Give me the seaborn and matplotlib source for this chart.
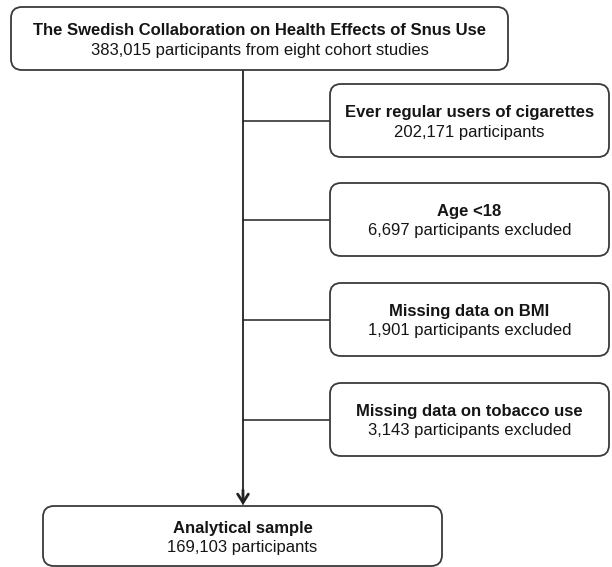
import matplotlib
matplotlib.use("Agg")
import matplotlib.pyplot as plt
from matplotlib.patches import FancyBboxPatch
import seaborn as sns

# flowchart content
TITLES = ["The Swedish Collaboration on Health Effects of Snus Use",
          "Ever regular users of cigarettes",
          "Age <18",
          "Missing data on BMI",
          "Missing data on tobacco use",
          "Analytical sample"]
COUNTS = [383015, 202171, 6697, 1901, 3143, 169103]
NOTES = ["participants from eight cohort studies",
         "participants",
         "participants excluded",
         "participants excluded",
         "participants excluded",
         "participants"]

sns.set_theme(style="white")
plt.rcParams["font.family"] = ["Liberation Sans", "DejaVu Sans"]

EDGE = "#3a3a3a"
LINE = "#222222"
TXT = "#151515"

fig = plt.figure(figsize=(6.12, 5.67), dpi=100)
ax = fig.add_axes([0, 0, 1, 1])
ax.set_xlim(0, 612)
ax.set_ylim(567, 0)
ax.axis("off")


def box(x0, y0, x1, y1, title, count, note):
    p = FancyBboxPatch((x0, y0), x1 - x0, y1 - y0,
                       boxstyle="round,pad=0,rounding_size=11",
                       fc="white", ec=EDGE, lw=1.3, zorder=2)
    ax.add_patch(p)
    cx = (x0 + x1) / 2
    cy = (y0 + y1) / 2
    ax.text(cx, cy - 3.5, title, ha="center", va="baseline",
            fontsize=12, fontweight="bold", color=TXT, zorder=3)
    ax.text(cx, cy + 16, f"{count:,} {note}", ha="center", va="baseline",
            fontsize=12, color=TXT, zorder=3)


spine_x = 243

# top box
box(11, 7, 508, 70, TITLES[0], COUNTS[0], NOTES[0])

# side boxes
side_tops = [84, 183, 283, 383]
for i, top in enumerate(side_tops):
    box(330, top, 609, top + 73, TITLES[i + 1], COUNTS[i + 1], NOTES[i + 1])
    mid = top + 36.5
    ax.plot([spine_x, 330], [mid, mid], color=LINE, lw=1.1, zorder=1)

# main spine, then a heavier chevron head at the bottom
ax.plot([spine_x, spine_x], [70, 504], color=LINE, lw=1.3, zorder=1)
ax.annotate("", xy=(spine_x, 505), xytext=(spine_x, 490),
            arrowprops=dict(arrowstyle="->,head_length=0.5,head_width=0.32",
                            color=LINE, lw=2.0, shrinkA=0, shrinkB=0),
            zorder=1)

# bottom box
box(43, 506, 442, 566, TITLES[5], COUNTS[5], NOTES[5])

fig.savefig("out.png", dpi=100)
